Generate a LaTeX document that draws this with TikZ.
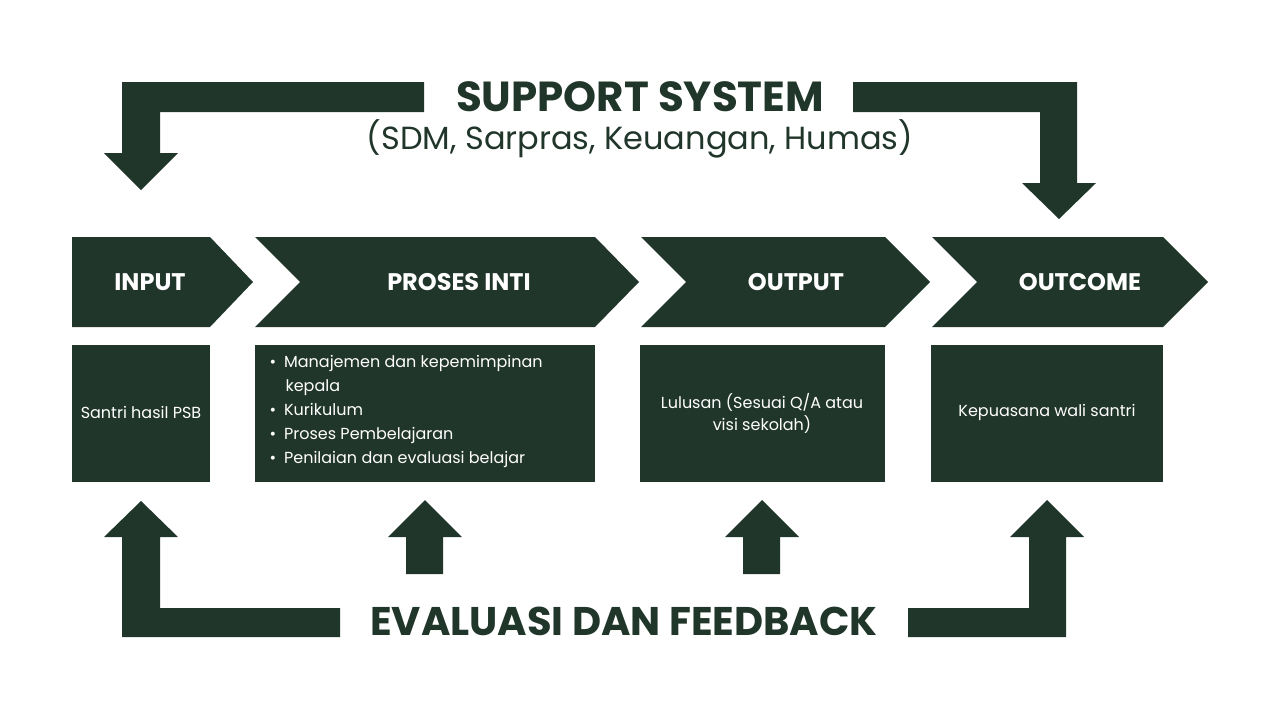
\documentclass[tikz,border=0pt]{standalone}
\usepackage{fontspec}
\setmainfont{Poppins}
\definecolor{dg}{HTML}{21362A}
\begin{document}
\begin{tikzpicture}[x=1pt,y=-1pt,
  shp/.style={fill=dg,draw=none},
  lbl/.style={text=white,font=\bfseries\fontsize{24}{28}\selectfont},
  body/.style={text=white,font=\fontsize{16}{22}\selectfont,align=center}]
\useasboundingbox (0,0) rectangle (1280,720);
% top bent arrows
\fill[dg] (424,82) -- (122,82) -- (122,153) -- (104,153) -- (141,190) -- (178,153) -- (160,153) -- (160,112) -- (424,112) -- cycle;
\fill[dg] (853,82) -- (1077,82) -- (1077,183) -- (1096,183) -- (1059,219) -- (1022,183) -- (1040,183) -- (1040,112) -- (853,112) -- cycle;
\node[text=dg,font=\bfseries\fontsize{42}{46}\selectfont] (sup) at (640,97) {SUPPORT SYSTEM};
\node[text=dg,font=\fontsize{32}{36}\selectfont] (sub) at (640,139) {(SDM, Sarpras, Keuangan, Humas)};
% chevrons
\fill[dg] (72,237) -- (210,237) -- (253,282) -- (210,327) -- (72,327) -- cycle;
\fill[dg] (255,237) -- (595,237) -- (639,282) -- (595,327) -- (255,327) -- (300,282) -- cycle;
\fill[dg] (641,237) -- (885,237) -- (930,282) -- (885,327) -- (641,327) -- (686,282) -- cycle;
\fill[dg] (932,237) -- (1163,237) -- (1208,282) -- (1163,327) -- (932,327) -- (977,282) -- cycle;
\node[lbl] (c1) at (150,282) {INPUT};
\node[lbl] (c2) at (459,282) {PROSES INTI};
\node[lbl] (c3) at (796,282) {OUTPUT};
\node[lbl] (c4) at (1080,282) {OUTCOME};
% boxes
\fill[dg] (72,345) rectangle (210,482);
\fill[dg] (255,345) rectangle (595,482);
\fill[dg] (640,345) rectangle (885,482);
\fill[dg] (931,345) rectangle (1163,482);
\node[body] (b1) at (141,412) {Santri hasil PSB};
\node[body] (b3) at (762,413) {Lulusan (Sesuai Q/A atau\\visi sekolah)};
\node[body] (b4) at (1047,412) {Kepuasana wali santri};
\node[text=white,font=\fontsize{16}{24}\selectfont,align=left,anchor=north west] (b2) at (266,352)
 {\textbullet\hspace{8pt}Manajemen dan kepemimpinan\\\hspace{16pt}kepala\\\textbullet\hspace{8pt}Kurikulum\\\textbullet\hspace{8pt}Proses Pembelajaran\\\textbullet\hspace{8pt}Penilaian dan evaluasi belajar};
% bottom arrows
\fill[dg] (340,637) -- (122,637) -- (122,537) -- (104,537) -- (141,501) -- (178,537) -- (160,537) -- (160,608) -- (340,608) -- cycle;
\fill[dg] (908,637) -- (1066,637) -- (1066,537) -- (1084,537) -- (1047,500) -- (1010,537) -- (1029,537) -- (1029,608) -- (908,608) -- cycle;
\fill[dg] (406,574) -- (406,537) -- (388,537) -- (425,500) -- (462,537) -- (443,537) -- (443,574) -- cycle;
\fill[dg] (743,574) -- (743,537) -- (725,537) -- (762,500) -- (799,537) -- (780,537) -- (780,574) -- cycle;
\node[text=dg,font=\bfseries\fontsize{40}{44}\selectfont] (ev) at (624,621) {EVALUASI DAN FEEDBACK};
\end{tikzpicture}
\end{document}
